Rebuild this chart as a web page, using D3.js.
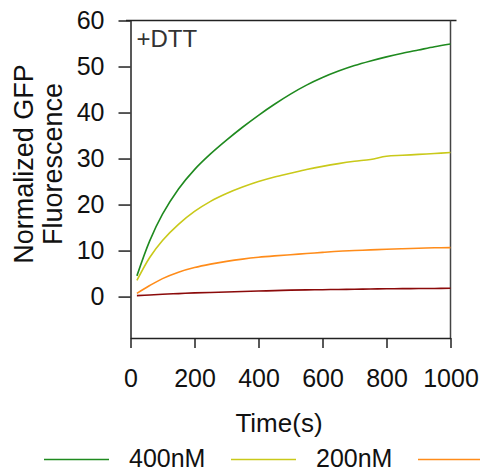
<!DOCTYPE html>
<html>
<head>
<meta charset="utf-8">
<script src="https://cdn.jsdelivr.net/npm/d3@7/dist/d3.min.js"></script>
<style>
  html, body { margin: 0; padding: 0; background: #fff; }
  svg { display: block; font-family: "Liberation Sans", Arial, sans-serif; }
  .axis path, .axis line { stroke: #222; stroke-width: 1.5; }
  .axis text { fill: #111; font-size: 25px; }
</style>
</head>
<body>
<svg id="chart" width="480" height="473"></svg>
<script>
// time points (s)
const times = [20, 60, 100, 150, 200, 250, 300, 350, 400, 450, 500, 550, 600, 650, 700, 750, 800, 850, 900, 950, 1000];

const series400 = [4.5, 12.1, 17.9, 23.4, 27.6, 31.0, 34.0, 36.8, 39.4, 41.8, 44.0, 45.95, 47.6, 49.0, 50.2, 51.2, 52.1, 52.9, 53.6, 54.3, 54.9];
const series200 = [3.5, 8.5, 12.2, 15.7, 18.5, 20.7, 22.4, 23.8, 25.0, 26.0, 26.8, 27.6, 28.3, 28.9, 29.4, 29.8, 30.5, 30.7, 30.9, 31.1, 31.3];
const series100 = [0.7, 2.4, 3.9, 5.3, 6.3, 7.05, 7.65, 8.15, 8.55, 8.85, 9.1, 9.35, 9.6, 9.85, 10.0, 10.15, 10.3, 10.4, 10.5, 10.6, 10.65];
const series50 = [0.2, 0.35, 0.5, 0.65, 0.8, 0.9, 1.0, 1.1, 1.2, 1.3, 1.4, 1.45, 1.5, 1.55, 1.6, 1.65, 1.7, 1.72, 1.75, 1.77, 1.8];

const seriesNames = ["400nM", "200nM", "100nM", "50nM"];
const seriesColors = ["#1f8a1f", "#c9c91a", "#ff8c1a", "#8b0a0a"];
const xTicks = [0, 200, 400, 600, 800, 1000];
const yTicks = [0, 10, 20, 30, 40, 50, 60];

const margin = { top: 20.5, left: 130.5 };
const width = 320;
const height = 317.5;

const svg = d3.select("#chart");
const g = svg.append("g").attr("transform", `translate(${margin.left},${margin.top})`);

const x = d3.scaleLinear().domain([0, 1000]).range([0, width]);
const y = d3.scaleLinear().domain([-9, 60]).range([height, 0]);

// frame: top and right lines
g.append("line")
  .attr("x1", -4.5).attr("x2", width + 6).attr("y1", 0).attr("y2", 0)
  .attr("stroke", "#222").attr("stroke-width", 1.5);
g.append("line")
  .attr("x1", width).attr("x2", width).attr("y1", 0).attr("y2", height)
  .attr("stroke", "#444").attr("stroke-width", 1.5);

g.append("g")
  .attr("class", "axis axis-y")
  .call(d3.axisLeft(y).tickValues(yTicks).tickSize(12).tickSizeOuter(0).tickPadding(14));

g.append("g")
  .attr("class", "axis axis-x")
  .attr("transform", `translate(0,${height})`)
  .call(d3.axisBottom(x).tickValues(xTicks).tickFormat(d3.format("d")).tickSize(10).tickSizeOuter(0).tickPadding(21));

// lines
const allSeries = [series400, series200, series100, series50];
const line = d3.line()
  .x((d, i) => x(times[i]))
  .y((d) => y(d))
  .curve(d3.curveCatmullRom);

allSeries.forEach((values, k) => {
  g.append("path")
    .datum(values)
    .attr("fill", "none")
    .attr("stroke", seriesColors[k])
    .attr("stroke-width", 1.6)
    .attr("d", line);
});

// annotation
g.append("text")
  .attr("x", 6)
  .attr("y", 26)
  .attr("font-size", 24)
  .attr("fill", "#333")
  .text("+DTT");

// axis labels
svg.append("text")
  .attr("text-anchor", "middle")
  .attr("x", 279)
  .attr("y", 431.5)
  .attr("font-size", 26)
  .attr("fill", "#111")
  .text("Time(s)");

const yLabel = svg.append("text")
  .attr("text-anchor", "middle")
  .attr("transform", "translate(33,164) rotate(-90)")
  .attr("font-size", 27)
  .attr("fill", "#111");
yLabel.append("tspan").attr("x", 0).attr("y", 0).text("Normalized GFP");
yLabel.append("tspan").attr("x", 0).attr("y", 29).text("Fluorescence");

// legend (runs past the right edge, as in the original)
const legend = svg.append("g").attr("transform", "translate(44,459.5)");
seriesNames.forEach((name, k) => {
  const item = legend.append("g").attr("transform", `translate(${k * 187},0)`);
  item.append("line")
    .attr("x1", 0).attr("x2", 65).attr("y1", 0).attr("y2", 0)
    .attr("stroke", seriesColors[k]).attr("stroke-width", 1.6);
  item.append("text")
    .attr("x", 85)
    .attr("y", 7.5)
    .attr("font-size", 25)
    .attr("fill", "#111")
    .text(name);
});
</script>
</body>
</html>
